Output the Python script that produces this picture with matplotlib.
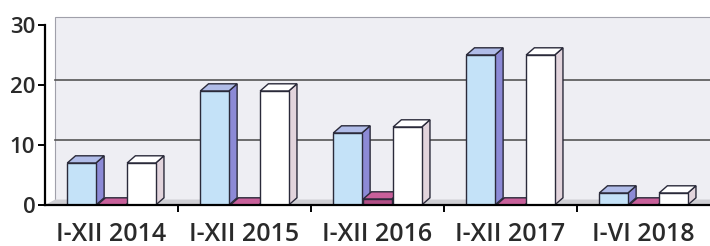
import matplotlib
matplotlib.use("Agg")
import numpy as np
import matplotlib.pyplot as plt
from matplotlib.patches import Polygon

categories = ["I-XII 2014", "I-XII 2015", "I-XII 2016", "I-XII 2017", "I-VI 2018"]
series_blue = [7, 19, 12, 25, 2]
series_magenta = [0, 0, 1, 0, 0]
series_white = [7, 19, 13, 25, 2]
y_ticks = [0, 10, 20, 30]

# face colours: front, side, top
styles = [
    ("#c4e2f8", "#8c8ad6", "#b0bce8"),
    ("#b24f86", "#8e3a6a", "#c8609a"),
    ("#ffffff", "#e2d4dc", "#ffffff"),
]

fig = plt.figure(figsize=(7.1, 2.46), dpi=100)
ax = fig.add_axes([45 / 710, 41 / 246, 665 / 710, 189 / 246])
ax.set_xlim(-0.5, 4.5)
ax.set_ylim(0, 31.5)

# back wall and floor
wdx, wdy = 0.075, 0.9
ax.add_patch(Polygon([(-0.5 + wdx, wdy), (-0.5 + wdx, 30 + 1.4), (4.6, 30 + 1.4), (4.6, wdy)],
                     closed=True, facecolor="#eeeef3", edgecolor="#a0a0aa", lw=0.8, zorder=0))
ax.add_patch(Polygon([(-0.5, 0), (-0.5 + wdx, wdy), (4.6, wdy), (4.6, 0)],
                     closed=True, facecolor="#cfcfd4", edgecolor="none", zorder=0.5))
for v in y_ticks[1:3]:
    ax.plot([-0.5 + wdx, 4.6], [v + wdy, v + wdy], color="#555555", lw=1.2, zorder=0.6)

bar_w = 0.215
offsets = [-0.225, 0.0, 0.225]
bdx, bdy = 0.062, 1.2
x = np.arange(len(categories))
for i in range(len(categories)):
    for k, vals in enumerate([series_blue, series_magenta, series_white]):
        front, side, top = styles[k]
        x0 = x[i] + offsets[k] - bar_w / 2
        x1 = x0 + bar_w
        v = vals[i]
        z = 2 + i * 3 + k
        ax.add_patch(Polygon([(x1, 0), (x1 + bdx, bdy), (x1 + bdx, v + bdy), (x1, v)],
                             closed=True, facecolor=side, edgecolor="#2a2a3a", lw=1.0, zorder=z))
        ax.add_patch(Polygon([(x0, v), (x0 + bdx, v + bdy), (x1 + bdx, v + bdy), (x1, v)],
                             closed=True, facecolor=top, edgecolor="#2a2a3a", lw=1.0, zorder=z))
        if v > 0:
            ax.bar(x0, v, width=bar_w, align="edge", color=front, edgecolor="#2a2a3a",
                   lw=1.0, zorder=z + 0.5)

for s in ["top", "right"]:
    ax.spines[s].set_visible(False)
ax.spines["left"].set_bounds(0, 30)
ax.spines["left"].set_linewidth(1.6)
ax.spines["bottom"].set_linewidth(1.6)
ax.spines["left"].set_zorder(30)
ax.spines["bottom"].set_zorder(30)

ax.set_yticks(y_ticks)
ax.set_yticklabels([str(t) for t in y_ticks], fontsize=16, fontweight="semibold",
                   family=["Open Sans", "DejaVu Sans"], color="#2a2a2a")
ax.tick_params(axis="y", length=5, width=1.4, pad=2)

ax.set_xticks(np.arange(0.5, 4.0, 1.0))
ax.set_xticks(x, minor=True)
ax.set_xticklabels([])
ax.set_xticklabels(categories, minor=True, fontsize=18, fontweight="semibold",
                   family=["Open Sans", "DejaVu Sans"], color="#2a2a2a")
ax.tick_params(axis="x", which="major", length=5, width=1.4)
ax.tick_params(axis="x", which="minor", length=0, pad=12)

fig.savefig("out.png", dpi=100)
